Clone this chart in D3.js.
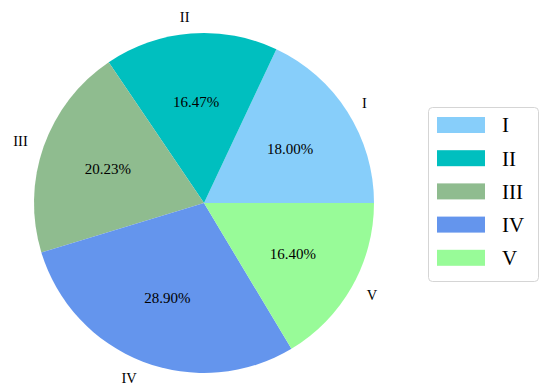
<!DOCTYPE html>
<html>
<head>
<meta charset="utf-8">
<script src="https://cdn.jsdelivr.net/npm/d3@7"></script>
<style>
  body { margin: 0; background: #fff; }
  text { font-family: "Liberation Serif", "Times New Roman", serif; }
</style>
</head>
<body>
<div id="chart"></div>
<script>
const categories = ["I", "II", "III", "IV", "V"];
const shares = [18.00, 16.47, 20.23, 28.90, 16.40];
const colors = ["#87CEFA", "#00BFBF", "#8FBC8F", "#6495ED", "#98FB98"];

const width = 550;
const height = 392;
const cx = 204, cy = 203;
const radius = 170;

const data = categories.map((c, i) => ({ label: c, value: shares[i], color: colors[i] }));

const svg = d3.select("#chart")
    .append("svg")
    .attr("width", width)
    .attr("height", height);

const g = svg.append("g")
    .attr("transform", `translate(${cx},${cy})`);

// matplotlib style: start at 3 o'clock, go counterclockwise
const pie = d3.pie()
    .sort(null)
    .value(d => d.value)
    .startAngle(Math.PI / 2)
    .endAngle(Math.PI / 2 - 2 * Math.PI);

const arcs = pie(data);

const arc = d3.arc().innerRadius(0).outerRadius(radius);
const labelArc = d3.arc().innerRadius(radius * 1.1).outerRadius(radius * 1.1);
const pctArc = d3.arc().innerRadius(radius * 0.6).outerRadius(radius * 0.6);

g.selectAll(".slice")
    .data(arcs)
    .join("path")
    .attr("class", "slice")
    .attr("d", arc)
    .attr("fill", d => d.data.color);

// outer labels
g.selectAll(".label")
    .data(arcs)
    .join("text")
    .attr("class", "label")
    .attr("x", d => labelArc.centroid(d)[0])
    .attr("y", d => labelArc.centroid(d)[1])
    .attr("dy", "0.35em")
    .attr("text-anchor", d => labelArc.centroid(d)[0] > 0 ? "start" : "end")
    .attr("font-size", "14.5px")
    .attr("fill", "#000")
    .text(d => d.data.label);

// percentages
g.selectAll(".pct")
    .data(arcs)
    .join("text")
    .attr("class", "pct")
    .attr("x", d => pctArc.centroid(d)[0])
    .attr("y", d => pctArc.centroid(d)[1])
    .attr("dy", "0.35em")
    .attr("text-anchor", "middle")
    .attr("font-size", "15px")
    .attr("fill", "#000")
    .text(d => d.data.value.toFixed(2) + "%");

// legend
const legend = svg.append("g").attr("transform", "translate(428,107)");

legend.append("rect")
    .attr("x", 0.5)
    .attr("y", 0.5)
    .attr("width", 110)
    .attr("height", 174)
    .attr("rx", 4)
    .attr("fill", "#fff")
    .attr("stroke", "#d5d5d5")
    .attr("stroke-width", 1);

const item = legend.selectAll(".item")
    .data(data)
    .join("g")
    .attr("class", "item")
    .attr("transform", (d, i) => `translate(0,${18 + i * 33.2})`);

item.append("rect")
    .attr("x", 9)
    .attr("y", -8)
    .attr("width", 48)
    .attr("height", 16)
    .attr("fill", d => d.color);

item.append("text")
    .attr("x", 74)
    .attr("y", 0)
    .attr("dy", "0.35em")
    .attr("font-size", "21px")
    .attr("fill", "#000")
    .text(d => d.label);
</script>
</body>
</html>
